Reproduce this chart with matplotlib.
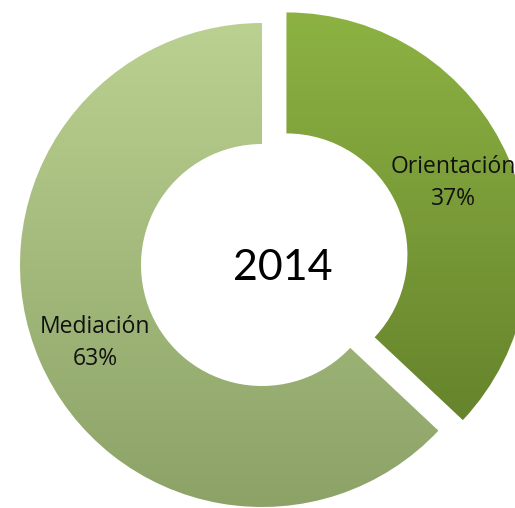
import numpy as np
import matplotlib.pyplot as plt
from matplotlib.colors import LinearSegmentedColormap

# datos
labels = ['Orientación', 'Mediación']
shares = [37, 63]
year = '2014'
explode = [0.11, 0]
top_colors = ['#8db243', '#bad191']
bottom_colors = ['#66842c', '#8ca267']

R = 242.0  # radio exterior en pixeles


def px(x, y):
    # pixeles de la imagen -> coordenadas del pie (radio 1)
    return (x - 262) / R, (265 - y) / R


fig = plt.figure(figsize=(5.15, 5.08), dpi=100)
ax = fig.add_axes([0, 0, 1, 1])

wedges, _ = ax.pie(shares, explode=explode, startangle=90, counterclock=False,
                   radius=1, wedgeprops=dict(width=0.5, linewidth=0))

# degradado vertical dentro de cada sector
grad = np.linspace(0, 1, 256).reshape(-1, 1)
for w, c_top, c_bot in zip(wedges, top_colors, bottom_colors):
    w.set_facecolor('none')
    ext = w.get_path().get_extents()
    cmap = LinearSegmentedColormap.from_list('g', [c_bot, c_top])
    im = ax.imshow(grad, cmap=cmap, origin='lower', aspect='auto',
                   extent=[ext.x0, ext.x1, ext.y0, ext.y1], zorder=2)
    im.set_clip_path(w)

ax.set_xlim(px(0, 0)[0], px(515, 0)[0])
ax.set_ylim(px(0, 508)[1], px(0, 0)[1])
ax.set_aspect('auto')
ax.axis('off')

label_pos = [(453, 183), (95, 343)]
for lab, s, (x, y) in zip(labels, shares, label_pos):
    ax.text(*px(x, y), f'{lab}\n{s}%', ha='center', va='center', fontsize=16.5,
            linespacing=1.42, family='Open Sans', color='#111111', zorder=5)

ax.text(*px(283, 268), year, ha='center', va='center', fontsize=31,
        family='Lato', color='black', zorder=5)

fig.savefig('out.png', dpi=100)
